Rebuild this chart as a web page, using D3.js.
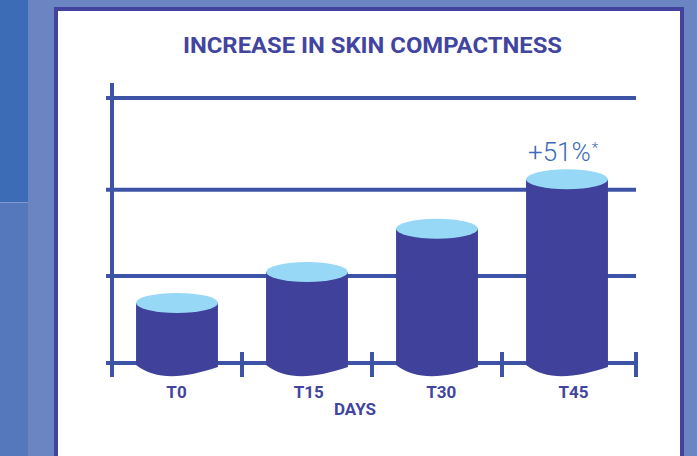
<!DOCTYPE html>
<html><head><meta charset="utf-8">
<script src="https://cdn.jsdelivr.net/npm/d3@7"></script>
<style>html,body{margin:0;padding:0;background:#6b84c2;overflow:hidden}</style>
</head><body>
<script>
const categories = ["T0", "T15", "T30", "T45"];
const values = [0.68, 1.03, 1.52, 2.08];
const gridValues = [0, 0.985, 1.96, 3];
const titleText = "INCREASE IN SKIN COMPACTNESS";
const axisTitle = "DAYS";
const annotation = "+51%";

const W = 697, H = 456;
const svg = d3.select("body").append("svg").attr("width", W).attr("height", H);

// background pieces
svg.append("rect").attr("x",0).attr("y",0).attr("width",W).attr("height",H).attr("fill","#6b84c2");
svg.append("rect").attr("x",0).attr("y",0).attr("width",28).attr("height",202).attr("fill","#3c6cb5");
svg.append("rect").attr("x",0).attr("y",202).attr("width",28).attr("height",H-202).attr("fill","#5577bc");
svg.append("rect").attr("x",0).attr("y",202).attr("width",28).attr("height",1).attr("fill","#8299d0");
// frame
svg.append("rect").attr("x",54).attr("y",7).attr("width",630).attr("height",H).attr("fill","#42439e");
svg.append("rect").attr("x",58).attr("y",11).attr("width",622).attr("height",H).attr("fill","#ffffff");

const axisColor = "#3d54a6";
const y = d3.scaleLinear().domain([0, 3]).range([363, 98]);
const x = d3.scaleBand().domain(categories).range([112, 632]);
const xLab = d3.scalePoint().domain(categories).range([176.5, 573.5]);

// title
svg.append("text").attr("x", 372.5).attr("y", 53).attr("text-anchor","middle")
  .attr("font-family","Roboto").attr("font-weight",700).attr("font-size",22)
  .attr("textLength",379).attr("lengthAdjust","spacingAndGlyphs")
  .attr("fill","#4245a0").text(titleText);

// gridlines
svg.append("g").selectAll("line").data(gridValues).join("line")
  .attr("x1",106).attr("x2",636).attr("y1",d=>y(d)).attr("y2",d=>y(d))
  .attr("stroke",axisColor).attr("stroke-width",4);
// y axis line
svg.append("line").attr("x1",112).attr("x2",112).attr("y1",83).attr("y2",377)
  .attr("stroke",axisColor).attr("stroke-width",4);
// x ticks at band boundaries
const tickXs = categories.slice(1).map(c => x(c)).concat([636]);
svg.append("g").selectAll("line").data(tickXs).join("line")
  .attr("x1",d=>d).attr("x2",d=>d).attr("y1",352).attr("y2",377)
  .attr("stroke",axisColor).attr("stroke-width",4);

// cylinders
const bw = x.bandwidth()*0.63;
const ry = 10;
const base = y(0);
const g = svg.append("g");
categories.forEach((c,i)=>{
  const cx = x(c) + x.bandwidth()/2;
  const x0 = cx - bw/2, x1 = cx + bw/2;
  const ty = y(values[i]);
  const p = d3.path();
  p.moveTo(x0, ty);
  p.lineTo(x0, base+2);
  p.bezierCurveTo(x0+bw*0.25, base+18, x0+bw*0.6, base+15, x1, base+4);
  p.lineTo(x1, ty);
  p.closePath();
  g.append("path").attr("d", p.toString()).attr("fill","#40419a");
  g.append("ellipse").attr("cx",cx).attr("cy",ty).attr("rx",bw/2).attr("ry",ry).attr("fill","#96d8f5");
});

// category labels
svg.append("g").selectAll("text").data(categories).join("text")
  .attr("x",d=>xLab(d)).attr("y",398).attr("text-anchor","middle")
  .attr("font-family","Roboto").attr("font-weight",700).attr("font-size",17)
  .attr("fill","#4245a0").text(d=>d);
svg.append("text").attr("x",355).attr("y",415).attr("text-anchor","middle")
  .attr("font-family","Roboto").attr("font-weight",700).attr("font-size",17)
  .attr("fill","#4245a0").text(axisTitle);

// annotation
const last = categories[categories.length-1];
const ann = svg.append("text").attr("x", x(last)+x.bandwidth()/2 - 39).attr("y",161)
  .attr("font-family","Roboto").attr("font-weight",300).attr("font-size",26)
  .attr("fill","#3b6ab8");
ann.append("tspan").text(annotation);
ann.append("tspan").attr("font-size",15).attr("dy",-8).attr("dx",1).text("*");
</script>
</body></html>
